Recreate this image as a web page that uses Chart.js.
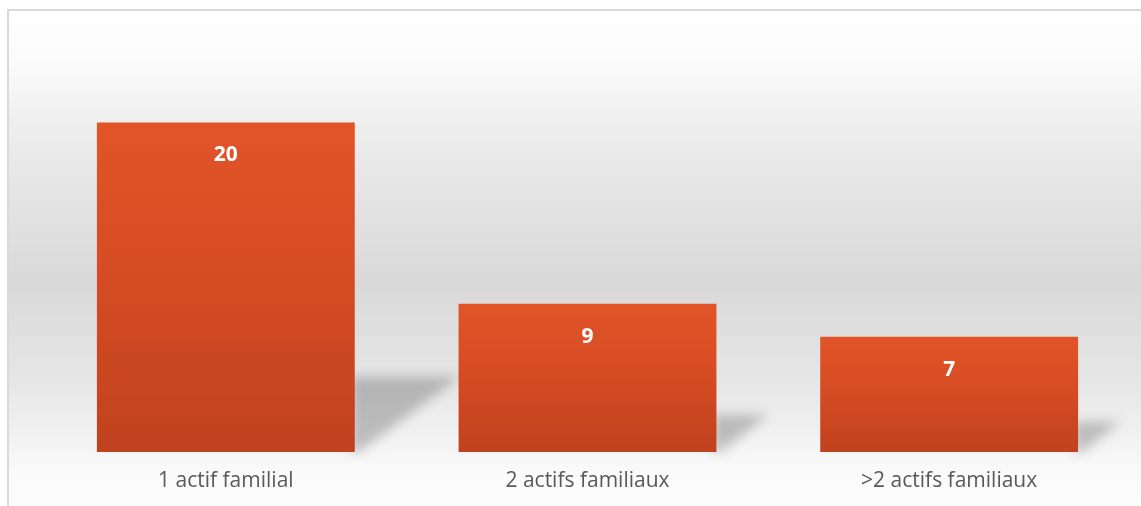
<!DOCTYPE html>
<html lang="fr">
<head>
<meta charset="utf-8">
<title>Actifs familiaux</title>
<script src="https://cdn.jsdelivr.net/npm/chart.js@4.4.1/dist/chart.umd.min.js"></script>
<style>
  html, body { margin: 0; padding: 0; background: #ffffff; overflow: hidden; }
  #wrap { position: relative; width: 1141px; height: 506px; }
</style>
</head>
<body>
<div id="wrap"><canvas id="chart" width="1141" height="506"></canvas></div>
<script>
// Number of households by count of family workers
const categories = ['1 actif familial', '2 actifs familiaux', '>2 actifs familiaux'];
const households = [20, 9, 7];
const axisMax = 25;

// Panel frame and vertical background gradient
const panelPlugin = {
  id: 'panel',
  beforeDraw(chart) {
    const ctx = chart.ctx;
    const w = chart.width, h = chart.height;
    ctx.save();
    ctx.fillStyle = '#ffffff';
    ctx.fillRect(0, 0, w, h);
    const top = 10;
    const g = ctx.createLinearGradient(0, top, 0, h);
    g.addColorStop(0.00, '#ffffff');
    g.addColorStop(0.10, '#fbfbfb');
    g.addColorStop(0.27, '#ebebeb');
    g.addColorStop(0.55, '#d9d9d9');
    g.addColorStop(0.75, '#e6e6e6');
    g.addColorStop(0.88, '#f4f4f4');
    g.addColorStop(0.93, '#fafafa');
    g.addColorStop(1.00, '#fcfcfc');
    ctx.fillStyle = g;
    ctx.fillRect(8, top, w - 8, h - top);
    ctx.fillStyle = '#d9d9d9';
    ctx.fillRect(7, top - 1, w - 7, 2);
    ctx.fillRect(7, top - 1, 2, h - top + 1);
    ctx.restore();
  },
  // Soft cast shadow to the right of each bar
  beforeDatasetsDraw(chart) {
    const ctx = chart.ctx;
    const meta = chart.getDatasetMeta(0);
    ctx.save();
    ctx.filter = 'blur(6px)';
    ctx.fillStyle = 'rgba(0,0,0,0.22)';
    meta.data.forEach(bar => {
      const right = bar.x + bar.width / 2;
      const bottom = bar.base;
      const bh = bottom - bar.y;
      const sh = bh * 0.21 + 6;
      const sw = sh * 1.4;
      ctx.beginPath();
      ctx.moveTo(right - 4, bottom);
      ctx.lineTo(right - 4, bottom - sh);
      ctx.lineTo(right + sw, bottom - sh);
      ctx.lineTo(right + 4, bottom);
      ctx.closePath();
      ctx.fill();
    });
    ctx.restore();
  },
  // Value labels inside the bars
  afterDatasetsDraw(chart) {
    const ctx = chart.ctx;
    const meta = chart.getDatasetMeta(0);
    const values = chart.data.datasets[0].data;
    ctx.save();
    ctx.fillStyle = '#ffffff';
    ctx.font = 'bold 21px "Open Sans", sans-serif';
    ctx.textAlign = 'center';
    ctx.textBaseline = 'middle';
    meta.data.forEach((bar, i) => {
      ctx.fillText(String(values[i]), bar.x, bar.y + 33);
    });
    ctx.restore();
  }
};

// Each bar gets its own top-to-bottom orange gradient
function barGradient(context) {
  const chart = context.chart;
  const area = chart.chartArea;
  const yScale = chart.scales.y;
  if (!area || !yScale || context.raw === undefined) return '#d94d26';
  const top = yScale.getPixelForValue(context.raw);
  const bottom = yScale.getPixelForValue(0);
  if (!isFinite(top) || !isFinite(bottom) || top === bottom) return '#d94d26';
  const g = chart.ctx.createLinearGradient(0, top, 0, bottom);
  g.addColorStop(0, '#e25428');
  g.addColorStop(0.45, '#d64c24');
  g.addColorStop(1, '#c0421e');
  return g;
}

new Chart(document.getElementById('chart'), {
  type: 'bar',
  data: {
    labels: categories,
    datasets: [{
      data: households,
      backgroundColor: barGradient,
      borderWidth: 0,
      barPercentage: 0.713,
      categoryPercentage: 1.0
    }]
  },
  plugins: [panelPlugin],
  options: {
    responsive: false,
    animation: false,
    layout: { padding: { left: 45, right: 11, top: 40, bottom: -5 } },
    plugins: {
      legend: { display: false },
      tooltip: { enabled: false }
    },
    scales: {
      x: {
        grid: { display: false, drawTicks: false },
        border: { display: false },
        ticks: {
          color: '#595959',
          padding: 19,
          font: { family: '"Open Sans", sans-serif', size: 21, lineHeight: 1.0 }
        }
      },
      y: {
        display: false,
        min: 0,
        max: axisMax
      }
    }
  }
});
</script>
</body>
</html>
